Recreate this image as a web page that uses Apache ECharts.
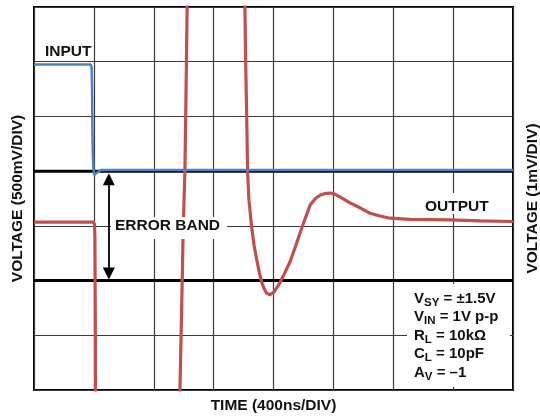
<!DOCTYPE html>
<html><head><meta charset="utf-8">
<script src="https://cdn.jsdelivr.net/npm/echarts@6/dist/echarts.min.js"></script>
<style>html,body{margin:0;padding:0;background:#fff}#c{width:540px;height:417px}</style>
</head><body><div id="c"></div>
<script>
const FONT = '"Liberation Sans", Arial, Helvetica, sans-serif';

// X axis: time in ns (400 ns per division, 8 divisions)
const xMin = 0, xMax = 3200, xStep = 400;
// Y axis: in divisions (7 divisions)
const yMin = 0, yMax = 7, yStep = 1;

// INPUT trace (divisions)
const inputTime  = [0, 378, 385, 388, 390, 393, 397, 402, 410, 420, 450, 3200];
const inputValue = [5.95, 5.95, 5.9, 5.5, 4.8, 4.3, 4.05, 3.93, 3.92, 3.97, 4.02, 4.02];

// OUTPUT trace (divisions); values beyond 0..7 are clipped by the grid
const outputTime  = [0, 396, 404, 407, 410, 411, 972, 975, 990, 997, 1008, 1016, 1023, 1026,
  1406, 1409, 1414, 1421, 1427, 1436, 1454, 1470, 1488, 1505, 1521, 1538, 1554, 1577, 1603,
  1643, 1677, 1710, 1750, 1791, 1845, 1880, 1911, 1945, 1978, 2010, 2044, 2111, 2178, 2245,
  2311, 2378, 2512, 2780, 2981, 3200];
const outputValue = [3.07, 3.07, 3.03, 2.8, 1.0, -0.5, -0.5, 0, 1.97, 2.98, 3.98, 5.5, 7.0, 7.5,
  7.5, 7.0, 6.0, 5.0, 3.98, 3.47, 2.98, 2.65, 2.38, 2.15, 1.97, 1.85, 1.77, 1.74, 1.79,
  1.96, 2.15, 2.34, 2.65, 2.98, 3.38, 3.5, 3.56, 3.59, 3.60, 3.58, 3.53, 3.42, 3.33, 3.23,
  3.18, 3.14, 3.12, 3.11, 3.09, 3.08];

// Error band limits (divisions)
const errorBandUpper = 4, errorBandLower = 2;
const errorArrowTime = 500;
const errorArrowTop = 3.85, errorArrowBottom = 2.13;

// Test conditions: [symbol, subscript, rest]
const conditions = [
  ['V', 'SY', ' = ±1.5V'],
  ['V', 'IN', ' = 1V p-p'],
  ['R', 'L', ' = 10kΩ'],
  ['C', 'L', ' = 10pF'],
  ['A', 'V', ' = –1']
];

const zip = (a, b) => a.map((v, i) => [v, b[i]]);

const nameStyle = { fontFamily: FONT, fontWeight: 'bold', fontSize: 15.5, color: '#111' };
const gridLine = { show: true, lineStyle: { color: '#3a3a3a', width: 1.2 } };

const chart = echarts.init(document.getElementById('c'), null, { renderer: 'canvas' });

const condGraphics = conditions.map((c, i) => ({
  type: 'text', z: 101, x: 414, y: 298.5 + i * 18.5,
  style: {
    text: '{m|' + c[0] + '}{s|' + c[1] + '}{m|' + c[2] + '}',
    align: 'left', verticalAlign: 'middle', lineHeight: 18,
    rich: {
      m: { fontFamily: FONT, fontWeight: 'bold', fontSize: 15, fill: '#111', lineHeight: 18 },
      s: { fontFamily: FONT, fontWeight: 'bold', fontSize: 11.5, fill: '#111', lineHeight: 18, padding: [8, 0, 0, 0] }
    }
  }
}));

chart.setOption({
  animation: false,
  backgroundColor: '#fff',
  grid: { left: 34, right: 27, top: 7, bottom: 27, show: true, borderColor: '#000', borderWidth: 2,
          containLabel: false, outerBoundsMode: 'none' },
  xAxis: {
    type: 'value', min: xMin, max: xMax, interval: xStep,
    axisLine: { show: false }, axisTick: { show: false }, axisLabel: { show: false },
    splitLine: gridLine,
    name: 'TIME (400ns/DIV)', nameLocation: 'middle', nameGap: 8, nameTextStyle: nameStyle
  },
  yAxis: [{
    type: 'value', min: yMin, max: yMax, interval: yStep, position: 'left',
    axisLine: { show: false }, axisTick: { show: false }, axisLabel: { show: false },
    splitLine: gridLine,
    name: 'VOLTAGE (500mV/DIV)', nameLocation: 'middle', nameRotate: 90, nameGap: 8, nameTextStyle: nameStyle
  }, {
    type: 'value', min: yMin, max: yMax, interval: yStep, position: 'right',
    axisLine: { show: false }, axisTick: { show: false }, axisLabel: { show: false },
    splitLine: { show: false },
    name: 'VOLTAGE (1mV/DIV)', nameLocation: 'middle', nameRotate: 90, nameGap: 12, nameTextStyle: nameStyle
  }],
  series: [{
    name: 'Error band upper', type: 'line', showSymbol: false, silent: true, z: 2,
    data: [[xMin, errorBandUpper], [xMax, errorBandUpper]],
    lineStyle: { color: '#000', width: 3 }
  }, {
    name: 'Error band lower', type: 'line', showSymbol: false, silent: true, z: 2,
    data: [[xMin, errorBandLower], [xMax, errorBandLower]],
    lineStyle: { color: '#000', width: 3 },
    markLine: {
      silent: true, symbol: ['triangle', 'triangle'], symbolSize: 12,
      label: { show: false },
      lineStyle: { color: '#000', width: 1.8, type: 'solid' },
      data: [[{ coord: [errorArrowTime, errorArrowTop] }, { coord: [errorArrowTime, errorArrowBottom] }]]
    }
  }, {
    name: 'OUTPUT', type: 'line', showSymbol: false, z: 3,
    data: zip(outputTime, outputValue),
    lineStyle: { color: '#c24f4c', width: 3.2 }
  }, {
    name: 'INPUT', type: 'line', showSymbol: false, z: 4,
    data: zip(inputTime, inputValue),
    lineStyle: { color: '#4f80bf', width: 2.5 }
  }],
  graphic: [
    { type: 'rect', z: 100, shape: { x: 111, y: 217, width: 116, height: 22 }, style: { fill: '#fff' } },
    { type: 'rect', z: 100, shape: { x: 421, y: 193, width: 71, height: 21 }, style: { fill: '#fff' } },
    { type: 'rect', z: 100, shape: { x: 407, y: 284, width: 103, height: 103 }, style: { fill: '#fff' } },
    { type: 'text', z: 101, x: 45, y: 52, style: { text: 'INPUT', font: 'bold 15.5px ' + FONT, fill: '#111', align: 'left', verticalAlign: 'middle' } },
    { type: 'text', z: 101, x: 425, y: 206.5, style: { text: 'OUTPUT', font: 'bold 15.5px ' + FONT, fill: '#111', align: 'left', verticalAlign: 'middle' } },
    { type: 'text', z: 101, x: 115, y: 226, style: { text: 'ERROR BAND', font: 'bold 15.5px ' + FONT, fill: '#111', align: 'left', verticalAlign: 'middle' } }
  ].concat(condGraphics)
});
</script>
</body></html>
